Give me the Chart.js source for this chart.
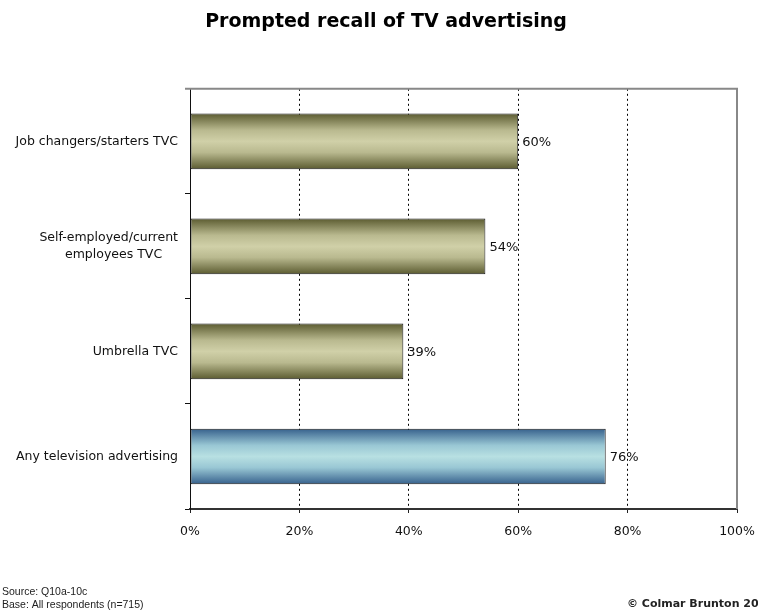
<!DOCTYPE html>
<html>
<head>
<meta charset="utf-8">
<title>Prompted recall of TV advertising</title>
<script src="https://cdn.jsdelivr.net/npm/chart.js@4/dist/chart.umd.min.js"></script>
<style>
  html, body { margin: 0; padding: 0; background: #fff; }
  #wrap { width: 758px; height: 612px; position: relative; }
</style>
</head>
<body>
<div id="wrap"><canvas id="recall_chart"></canvas></div>
<script>
// recall figures (%)
var categories = [
    'Job changers/starters TVC',
    ['Self-employed/current', 'employees TVC    '],
    'Umbrella TVC',
    'Any television advertising'
];
var recall = [60, 54, 39, 76];
var xTicks = [0, 20, 40, 60, 80, 100];

var FONT = 'DejaVu Sans';

// olive for single ads, blue for the total
var olive = ['#5b5b30', '#b9b98f', '#d0d0a8'];
var blue = ['#36608c', '#99c7d4', '#b8e0e2'];
var barColours = [olive, olive, olive, blue];

var barGradient = {
    id: 'barGradient',
    afterLayout: function (chart) {
        // let the category labels use the space left of the padding
        var y = chart.scales.y;
        y.width += y.left;
        y.left = 0;
    },
    beforeDatasetsDraw: function (chart) {
        var ctx = chart.ctx;
        chart.getDatasetMeta(0).data.forEach(function (el, i) {
            var top = el.y - el.height / 2;
            var g = ctx.createLinearGradient(0, top, 0, top + el.height);
            var s = barColours[i];
            g.addColorStop(0, s[0]);
            g.addColorStop(0.3, s[1]);
            g.addColorStop(0.5, s[2]);
            g.addColorStop(0.7, s[1]);
            g.addColorStop(1, s[0]);
            el.options.backgroundColor = g;
        });
    }
};

var valueLabels = {
    id: 'valueLabels',
    afterDatasetsDraw: function (chart) {
        var ctx = chart.ctx;
        var area = chart.chartArea;
        ctx.save();
        // grey frame on top and right
        ctx.strokeStyle = '#888888';
        ctx.lineWidth = 2;
        ctx.beginPath();
        ctx.moveTo(area.left - 5, area.top);
        ctx.lineTo(area.right, area.top);
        ctx.lineTo(area.right, area.bottom);
        ctx.stroke();

        ctx.fillStyle = '#111';
        ctx.font = '13px "' + FONT + '"';
        ctx.textBaseline = 'middle';
        ctx.textAlign = 'left';
        chart.getDatasetMeta(0).data.forEach(function (el, i) {
            ctx.fillText(recall[i] + '%', el.x + 4, el.y + 1);
        });

        // footnotes
        ctx.font = '10.5px "Liberation Sans"';
        ctx.fillStyle = '#222';
        ctx.textBaseline = 'alphabetic';
        ctx.fillText('Source: Q10a-10c', 2, 595);
        ctx.fillText('Base: All respondents (n=715)', 2, 608);
        ctx.font = 'bold 11px "' + FONT + '"';
        ctx.fillText('\u00A9 Colmar Brunton 20', 627, 607);
        ctx.restore();
    }
};

new Chart(document.getElementById('recall_chart').getContext('2d'), {
    type: 'bar',
    data: {
        labels: categories,
        datasets: [{
            data: recall,
            // scriptable so every bar keeps its own options object
            backgroundColor: function () { return '#c4c49a'; },
            borderColor: '#1a1a1a',
            borderWidth: 1,
            borderSkipped: false,
            barPercentage: 0.53,
            categoryPercentage: 1
        }]
    },
    options: {
        indexAxis: 'y',
        responsive: true,
        maintainAspectRatio: false,
        animation: false,
        events: [],
        layout: { padding: { left: 35, right: 21, top: 0, bottom: 0 } },
        plugins: {
            legend: { display: false },
            tooltip: { enabled: false },
            title: {
                display: true,
                text: 'Prompted recall of TV advertising',
                color: '#000',
                font: { family: FONT, size: 19, weight: 'bold' },
                padding: { top: 11, bottom: 55 }
            }
        },
        scales: {
            x: {
                min: 0,
                max: 100,
                afterBuildTicks: function (scale) {
                    scale.ticks = xTicks.map(function (v) { return { value: v }; });
                },
                afterFit: function (scale) {
                    scale.height = 103;
                    scale.paddingLeft = 0;
                    scale.paddingRight = 0;
                },
                ticks: {
                    color: '#111',
                    font: { family: FONT, size: 12.5 },
                    padding: 11,
                    callback: function (v) { return v + '%'; }
                },
                grid: {
                    color: function (c) {
                        return (c.index === 0 || c.index === xTicks.length - 1) ? 'rgba(0,0,0,0)' : '#000';
                    },
                    tickColor: '#222',
                    tickLength: 4,
                    tickBorderDash: [],
                    lineWidth: 1
                },
                border: { color: '#333', width: 2, dash: [2, 3] }
            },
            y: {
                afterFit: function (scale) { scale.width = 155; },
                ticks: {
                    color: '#111',
                    font: { family: FONT, size: 12.5, lineHeight: 1.4 },
                    padding: 7
                },
                grid: {
                    offset: true,
                    drawOnChartArea: false,
                    tickLength: 5,
                    tickColor: '#111'
                },
                border: { color: '#111', width: 1 }
            }
        }
    },
    plugins: [barGradient, valueLabels]
});
</script>
</body>
</html>
